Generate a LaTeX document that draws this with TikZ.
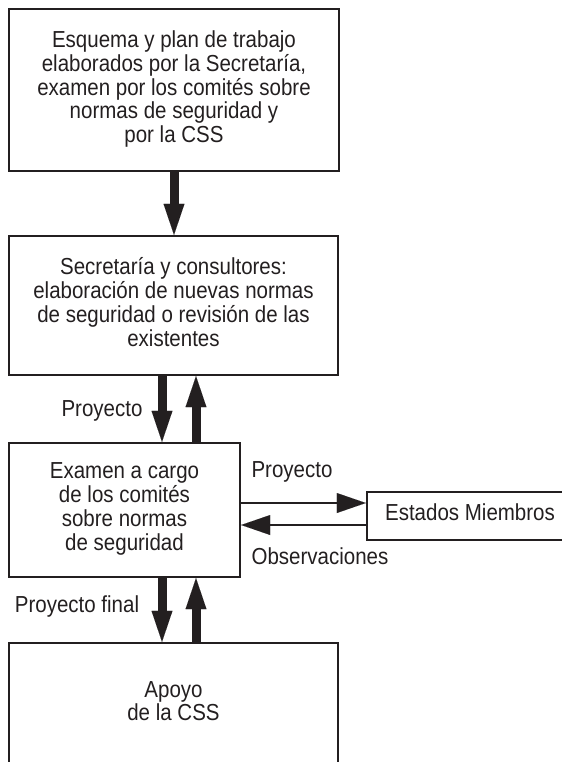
\documentclass[tikz,border=0pt]{standalone}
\usepackage{fontspec}
\usepackage{graphicx}
\setmainfont{Liberation Sans}
\usetikzlibrary{arrows.meta}
\definecolor{ink}{HTML}{231F20}
\newcommand\stxt[1]{\scalebox{1}[1.13]{\fontsize{20.5bp}{20.4bp}\selectfont\begin{tabular}{@{}c@{}}#1\end{tabular}}}
\begin{document}
\begin{tikzpicture}[x=1bp,y=-1bp,
  box/.style={text=ink, draw=ink, line width=2.4bp, rectangle, inner sep=0pt},
  lbl/.style={text=ink, inner sep=0pt},
  bigarrow/.style={draw=ink, line width=9bp, -{Triangle[width=21bp,length=31bp,line width=0.01bp]}},
  smallarrow/.style={draw=ink, line width=1.5bp, -{Triangle[width=20bp,length=29bp,line width=0.01bp]}}]
\useasboundingbox (0,0) rectangle (562,762);

\node[box, minimum width=330bp, minimum height=162bp] (b1) at (174,90)
  {\stxt{Esquema y plan de trabajo\\ elaborados por la Secretaría,\\ examen por los comités sobre\\ normas de seguridad y\\ por la CSS}};
\node[box, minimum width=329bp, minimum height=139bp] (b2) at (173.5,305.5)
  {\stxt{Secretaría y consultores:\\ elaboración de nuevas normas\\ de seguridad o revisión de las\\ existentes}};
\node[box, minimum width=231bp, minimum height=134bp] (b3) at (124.5,510)
  {\stxt{Examen a cargo\\ de los comités\\ sobre normas\\ de seguridad}};
\node[box, minimum width=206bp, minimum height=48bp] (b4) at (470,516)
  {\stxt{Estados Miembros}};
\node[box, minimum width=329bp, minimum height=123bp] (b5) at (173.5,704.5)
  {\stxt{Apoyo\\ de la CSS}};

\coordinate (cm) at (174,0);
\coordinate (cl) at (162,0);
\coordinate (cr) at (196,0);
\coordinate (rt) at (0,503);
\coordinate (rb) at (0,525);

\draw[bigarrow] (cm |- b1.south) -- (cm |- b2.north);
\draw[bigarrow] (cl |- b2.south) -- (cl |- b3.north);
\draw[bigarrow] (cr |- b3.north) -- (cr |- b2.south);
\draw[bigarrow] (cl |- b3.south) -- (cl |- b5.north);
\draw[bigarrow] (cr |- b5.north) -- (cr |- b3.south);

\draw[smallarrow] (b3.east |- rt) -- (b4.west |- rt);
\draw[smallarrow] (b4.west |- rb) -- (b3.east |- rb);

\node[lbl] (l1) at (102,412) {\stxt{Proyecto}};
\node[lbl] (l2) at (292,473) {\stxt{Proyecto}};
\node[lbl] (l3) at (320,560) {\stxt{Observaciones}};
\node[lbl] (l4) at (77,608) {\stxt{Proyecto final}};
\end{tikzpicture}
\end{document}
